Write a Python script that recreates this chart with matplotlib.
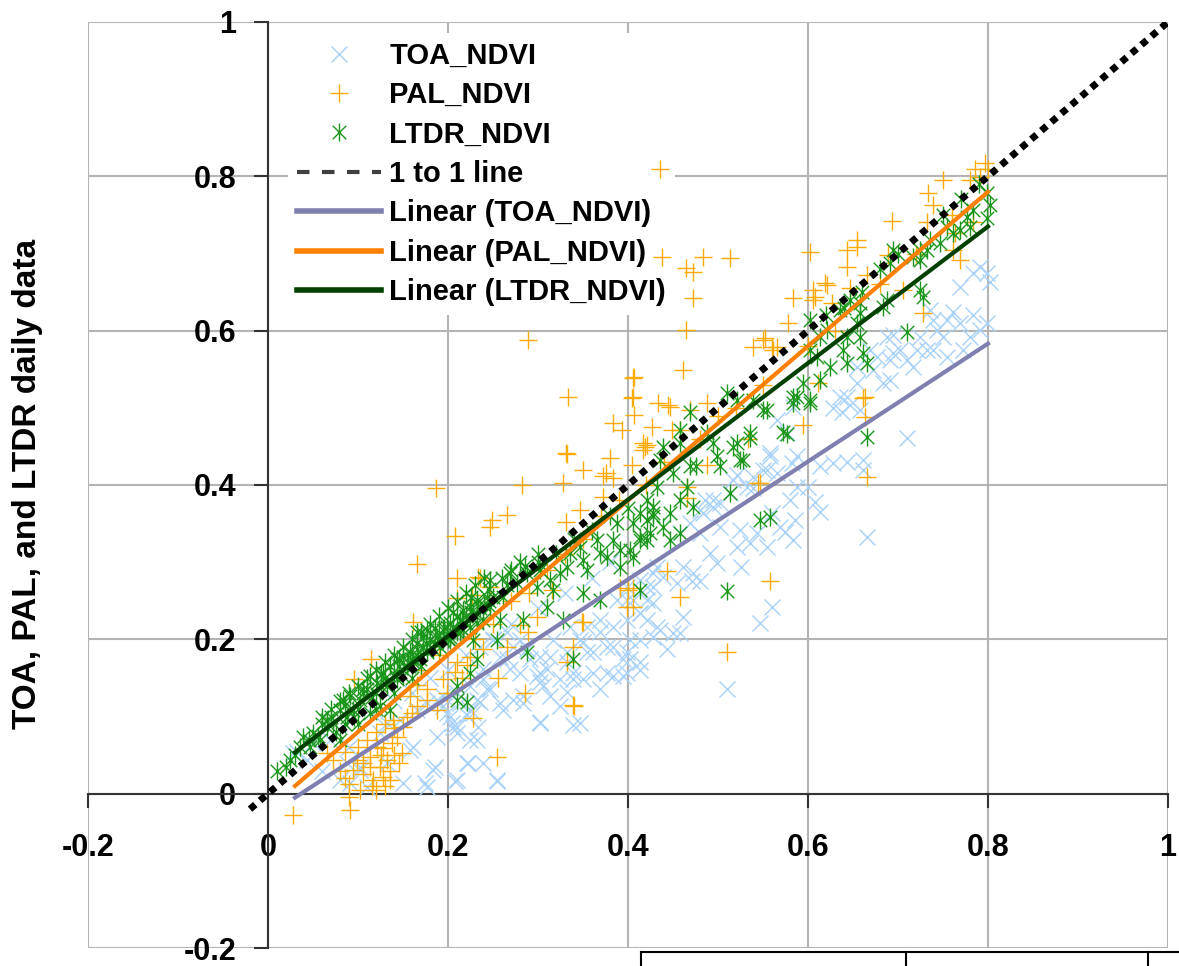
import numpy as np
import matplotlib
matplotlib.use("Agg")
import matplotlib.pyplot as plt
from matplotlib.lines import Line2D
from matplotlib.path import Path

plt.rcParams['font.family'] = ['Liberation Sans', 'DejaVu Sans']
plt.rcParams['font.weight'] = 'bold'

# scatter values (x = reference NDVI, y = daily NDVI)
toa_points = [
    (0.71, 0.461), (0.666, 0.333), (0.613, 0.365), (0.608, 0.378), (0.6, 0.398), (0.586, 0.355),
    (0.574, 0.339), (0.56, 0.364), (0.536, 0.325), (0.526, 0.294), (0.56, 0.242), (0.547, 0.221),
    (0.51, 0.135), (0.499, 0.299), (0.491, 0.312), (0.502, 0.377), (0.494, 0.381), (0.554, 0.42),
    (0.558, 0.437), (0.539, 0.396), (0.521, 0.413), (0.582, 0.429), (0.613, 0.424), (0.628, 0.429),
    (0.643, 0.43), (0.661, 0.433), (0.661, 0.42), (0.638, 0.494), (0.628, 0.5), (0.647, 0.504),
    (0.658, 0.497), (0.583, 0.501), (0.566, 0.484), (0.48, 0.368), (0.486, 0.38), (0.472, 0.286),
    (0.461, 0.294), (0.454, 0.273), (0.471, 0.275), (0.48, 0.275), (0.461, 0.229), (0.45, 0.208),
    (0.458, 0.208), (0.443, 0.187), (0.428, 0.203), (0.436, 0.212), (0.413, 0.234), (0.421, 0.225),
    (0.413, 0.17), (0.402, 0.174), (0.394, 0.152), (0.402, 0.199), (0.399, 0.251), (0.421, 0.251),
    (0.428, 0.268), (0.439, 0.281), (0.517, 0.407),
    (0.799, 0.675), (0.791, 0.683), (0.802, 0.663), (0.769, 0.657), (0.783, 0.675), (0.736, 0.627),
    (0.739, 0.614), (0.754, 0.614), (0.761, 0.624), (0.769, 0.61), (0.783, 0.62), (0.791, 0.601),
    (0.799, 0.61), (0.78, 0.592), (0.75, 0.592), (0.743, 0.601), (0.724, 0.592), (0.721, 0.575),
    (0.732, 0.575), (0.739, 0.575), (0.754, 0.566), (0.772, 0.575), (0.71, 0.562), (0.702, 0.575),
    (0.717, 0.553), (0.691, 0.562), (0.694, 0.571), (0.691, 0.536), (0.683, 0.532), (0.672, 0.549),
    (0.654, 0.553), (0.654, 0.532), (0.677, 0.566), (0.643, 0.514), (0.636, 0.514), (0.688, 0.592),
    (0.694, 0.594), (0.669, 0.575),
    (0.302, 0.093), (0.339, 0.089), (0.232, 0.07), (0.221, 0.04), (0.21, 0.018), (0.254, 0.016),
    (0.206, 0.087), (0.199, 0.105), (0.258, 0.118), (0.302, 0.145), (0.313, 0.126), (0.332, 0.132),
    (0.354, 0.183), (0.369, 0.135), (0.383, 0.152), (0.394, 0.174), (0.377, 0.19), (0.339, 0.148),
    (0.324, 0.148), (0.283, 0.118), (0.272, 0.122), (0.243, 0.135), (0.236, 0.119), (0.228, 0.105),
    (0.213, 0.118), (0.31, 0.161), (0.291, 0.174), (0.28, 0.157), (0.266, 0.174),
    (0.222, 0.04), (0.208, 0.016), (0.183, 0.031), (0.174, 0.014), (0.161, 0.061), (0.11, 0.009),
    (0.102, 0.031), (0.08, 0.018), (0.088, 0.04), (0.032, 0.054), (0.043, 0.044), (0.05, 0.066),
    (0.069, 0.07), (0.124, 0.079), (0.132, 0.092), (0.147, 0.096), (0.166, 0.109), (0.177, 0.118),
    (0.188, 0.122), (0.194, 0.126), (0.21, 0.131), (0.224, 0.139), (0.239, 0.148), (0.232, 0.122),
    (0.21, 0.087), (0.224, 0.07), (0.194, 0.113), (0.221, 0.102), (0.233, 0.087), (0.204, 0.092),
    (0.177, 0.009), (0.254, 0.018), (0.239, 0.04), (0.186, 0.034), (0.028, 0.053), (0.302, 0.092),
    (0.347, 0.092), (0.324, 0.113), (0.306, 0.139), (0.283, 0.126), (0.35, 0.148), (0.332, 0.17),
    (0.35, 0.196), (0.313, 0.177), (0.299, 0.152), (0.269, 0.161), (0.247, 0.135), (0.261, 0.109),
    (0.224, 0.109), (0.239, 0.161), (0.202, 0.1), (0.21, 0.079), (0.188, 0.074), (0.158, 0.057),
    (0.132, 0.04), (0.15, 0.014), (0.102, 0.035), (0.091, 0.014),
    (0.577, 0.468), (0.588, 0.437), (0.558, 0.442), (0.55, 0.42), (0.539, 0.411), (0.566, 0.416),
    (0.58, 0.381), (0.532, 0.398), (0.513, 0.39), (0.494, 0.372), (0.483, 0.364), (0.469, 0.351),
    (0.458, 0.338), (0.48, 0.338), (0.502, 0.346), (0.543, 0.338), (0.569, 0.346), (0.524, 0.342),
    (0.521, 0.32), (0.554, 0.32), (0.583, 0.329), (0.588, 0.398),
    (0.413, 0.199), (0.432, 0.216), (0.399, 0.183), (0.383, 0.19), (0.369, 0.209), (0.361, 0.183),
    (0.347, 0.199), (0.332, 0.183), (0.317, 0.199), (0.302, 0.177), (0.288, 0.187), (0.272, 0.19),
    (0.258, 0.177), (0.302, 0.157), (0.339, 0.157), (0.361, 0.157), (0.377, 0.157), (0.399, 0.157),
    (0.413, 0.16), (0.383, 0.216), (0.399, 0.225), (0.413, 0.234), (0.428, 0.247), (0.406, 0.251),
    (0.388, 0.251), (0.369, 0.225), (0.354, 0.216), (0.335, 0.216), (0.421, 0.268), (0.399, 0.268),
    (0.428, 0.286), (0.413, 0.277), (0.432, 0.294), (0.28, 0.199), (0.266, 0.209), (0.25, 0.199),
    (0.236, 0.19),
    (0.12, 0.1), (0.14, 0.12), (0.16, 0.13), (0.18, 0.15), (0.2, 0.16), (0.22, 0.18), (0.25, 0.2),
    (0.27, 0.22), (0.3, 0.24), (0.33, 0.26), (0.36, 0.28), (0.38, 0.3), (0.06, 0.03), (0.09, 0.06),
]

pal_points = [
    (0.435, 0.81), (0.438, 0.696), (0.472, 0.676), (0.472, 0.642), (0.464, 0.681), (0.483, 0.696),
    (0.464, 0.601), (0.289, 0.588), (0.333, 0.514), (0.187, 0.396), (0.166, 0.298), (0.249, 0.355),
    (0.208, 0.334), (0.266, 0.361), (0.247, 0.345), (0.282, 0.4), (0.332, 0.44), (0.328, 0.403),
    (0.35, 0.42), (0.38, 0.435), (0.372, 0.412), (0.383, 0.48), (0.393, 0.471), (0.407, 0.54),
    (0.404, 0.513), (0.407, 0.491), (0.461, 0.549), (0.578, 0.61), (0.552, 0.59), (0.539, 0.579),
    (0.56, 0.579), (0.433, 0.506), (0.444, 0.504), (0.469, 0.497), (0.427, 0.475), (0.458, 0.471),
    (0.417, 0.455), (0.419, 0.449), (0.533, 0.459), (0.547, 0.403), (0.466, 0.383), (0.21, 0.28),
    (0.233, 0.281), (0.21, 0.254), (0.227, 0.258), (0.161, 0.223), (0.349, 0.223), (0.299, 0.229),
    (0.406, 0.242), (0.4, 0.264), (0.443, 0.288), (0.458, 0.255), (0.558, 0.275),
    (0.513, 0.694), (0.406, 0.539), (0.602, 0.702), (0.643, 0.705), (0.654, 0.718), (0.654, 0.709),
    (0.643, 0.683), (0.693, 0.742), (0.733, 0.778), (0.739, 0.763), (0.75, 0.795), (0.797, 0.817),
    (0.791, 0.799), (0.8, 0.81), (0.732, 0.741), (0.761, 0.705), (0.769, 0.692), (0.728, 0.623),
    (0.583, 0.642), (0.606, 0.653), (0.619, 0.662), (0.606, 0.64), (0.55, 0.588), (0.566, 0.579),
    (0.663, 0.514), (0.663, 0.488), (0.666, 0.411), (0.594, 0.478), (0.544, 0.403), (0.447, 0.501),
    (0.406, 0.514), (0.449, 0.471), (0.488, 0.506), (0.404, 0.426), (0.417, 0.446), (0.466, 0.398),
    (0.488, 0.426),
    (0.621, 0.659), (0.608, 0.644), (0.627, 0.636), (0.647, 0.655), (0.706, 0.653), (0.666, 0.672),
    (0.689, 0.698), (0.561, 0.575), (0.661, 0.513), (0.611, 0.532), (0.786, 0.81), (0.78, 0.795),
    (0.763, 0.727), (0.783, 0.741),
    (0.114, 0.175), (0.096, 0.149), (0.09, -0.004), (0.091, -0.021), (0.102, 0.005), (0.12, 0.005),
    (0.228, 0.098), (0.188, 0.109), (0.158, 0.126), (0.177, 0.135), (0.194, 0.148), (0.208, 0.158),
    (0.221, 0.167), (0.216, 0.15), (0.166, 0.141), (0.072, 0.044), (0.066, 0.053), (0.086, 0.054),
    (0.106, 0.025), (0.113, 0.034), (0.124, 0.035), (0.132, 0.044), (0.128, 0.059), (0.138, 0.066),
    (0.143, 0.074), (0.121, 0.061), (0.113, 0.048), (0.094, 0.031), (0.099, 0.044), (0.128, 0.022),
    (0.136, 0.018), (0.117, 0.018), (0.149, 0.053), (0.15, 0.087), (0.154, 0.1), (0.139, 0.096),
    (0.166, 0.113), (0.177, 0.122), (0.199, 0.131), (0.21, 0.17), (0.224, 0.177), (0.239, 0.187),
    (0.11, 0.07), (0.12, 0.08), (0.13, 0.09), (0.14, 0.05), (0.1, 0.06), (0.105, 0.04), (0.125, 0.05),
    (0.135, 0.03), (0.145, 0.04), (0.115, 0.01), (0.13, 0.01), (0.08, 0.03), (0.085, 0.02),
    (0.14, 0.085), (0.16, 0.105),
    (0.028, -0.028), (0.286, 0.131), (0.339, 0.115), (0.254, 0.048), (0.09, 0.013),
    (0.339, 0.19), (0.332, 0.171), (0.256, 0.15), (0.34, 0.113), (0.51, 0.183),
    (0.331, 0.442), (0.375, 0.415), (0.383, 0.409), (0.421, 0.452), (0.347, 0.368), (0.331, 0.352),
    (0.372, 0.385), (0.235, 0.28), (0.247, 0.268), (0.316, 0.264), (0.35, 0.223), (0.28, 0.219),
    (0.266, 0.19), (0.289, 0.209), (0.399, 0.242), (0.406, 0.267), (0.391, 0.267),
    (0.17, 0.16), (0.19, 0.18), (0.23, 0.2), (0.25, 0.22), (0.27, 0.25), (0.29, 0.26), (0.31, 0.29),
    (0.33, 0.31), (0.35, 0.33), (0.37, 0.36), (0.39, 0.38), (0.42, 0.4), (0.44, 0.43), (0.48, 0.46),
    (0.5, 0.49), (0.52, 0.5), (0.55, 0.53), (0.6, 0.58), (0.63, 0.6), (0.68, 0.66), (0.72, 0.7),
    (0.76, 0.75),
]

ltdr_points = [
    (0.039, 0.074), (0.05, 0.079), (0.066, 0.087), (0.072, 0.092), (0.091, 0.126), (0.094, 0.109),
    (0.102, 0.122), (0.11, 0.135), (0.121, 0.144), (0.113, 0.152), (0.128, 0.157), (0.136, 0.165),
    (0.143, 0.174), (0.15, 0.177), (0.158, 0.183), (0.166, 0.187), (0.172, 0.203), (0.18, 0.199),
    (0.188, 0.203), (0.194, 0.212), (0.202, 0.221), (0.21, 0.229), (0.217, 0.238), (0.224, 0.242),
    (0.232, 0.247), (0.088, 0.1), (0.08, 0.109), (0.083, 0.122), (0.058, 0.07), (0.047, 0.061),
    (0.024, 0.044), (0.132, 0.139), (0.143, 0.148), (0.15, 0.152), (0.154, 0.165), (0.161, 0.17),
    (0.169, 0.174), (0.177, 0.183), (0.183, 0.187), (0.191, 0.19), (0.194, 0.199), (0.202, 0.203),
    (0.21, 0.209), (0.217, 0.212), (0.224, 0.216), (0.232, 0.221), (0.239, 0.225), (0.172, 0.19),
    (0.166, 0.209), (0.177, 0.212), (0.21, 0.122), (0.221, 0.119), (0.21, 0.139), (0.232, 0.174),
    (0.224, 0.157), (0.136, 0.109), (0.124, 0.113), (0.113, 0.105),
    (0.01, 0.03), (0.02, 0.035), (0.03, 0.05), (0.035, 0.06), (0.045, 0.07), (0.055, 0.075),
    (0.06, 0.09), (0.07, 0.1), (0.075, 0.08), (0.085, 0.09), (0.095, 0.1), (0.1, 0.11), (0.105, 0.13),
    (0.115, 0.125), (0.12, 0.13), (0.125, 0.14), (0.13, 0.15), (0.14, 0.155), (0.145, 0.165),
    (0.155, 0.17), (0.16, 0.175), (0.165, 0.18), (0.17, 0.165), (0.175, 0.195), (0.185, 0.195),
    (0.19, 0.205), (0.195, 0.215), (0.2, 0.2), (0.205, 0.215), (0.215, 0.225), (0.22, 0.23),
    (0.225, 0.235), (0.235, 0.24), (0.24, 0.245), (0.245, 0.25), (0.25, 0.255), (0.08, 0.07),
    (0.1, 0.09), (0.12, 0.11), (0.14, 0.13), (0.16, 0.15),
    (0.06, 0.1), (0.07, 0.11), (0.08, 0.12), (0.09, 0.13), (0.1, 0.14), (0.11, 0.15), (0.12, 0.16),
    (0.13, 0.17), (0.14, 0.18), (0.15, 0.19), (0.16, 0.2), (0.17, 0.21), (0.18, 0.22), (0.19, 0.23),
    (0.2, 0.24), (0.21, 0.25), (0.22, 0.26), (0.23, 0.27), (0.24, 0.28), (0.26, 0.28), (0.27, 0.29),
    (0.28, 0.3), (0.3, 0.31), (0.065, 0.095), (0.085, 0.115), (0.105, 0.135), (0.125, 0.155),
    (0.145, 0.175), (0.165, 0.195), (0.185, 0.215), (0.205, 0.235), (0.225, 0.255), (0.245, 0.265),
    (0.265, 0.27), (0.285, 0.295), (0.3, 0.3), (0.32, 0.31), (0.34, 0.33), (0.36, 0.34), (0.38, 0.36),
    (0.4, 0.37),
    (0.199, 0.216), (0.213, 0.225), (0.228, 0.234), (0.247, 0.242), (0.261, 0.255), (0.277, 0.273),
    (0.269, 0.286), (0.288, 0.286), (0.302, 0.29), (0.299, 0.268), (0.313, 0.277), (0.317, 0.264),
    (0.324, 0.286), (0.332, 0.294), (0.336, 0.312), (0.347, 0.32), (0.35, 0.303), (0.354, 0.29),
    (0.366, 0.329), (0.369, 0.312), (0.377, 0.307), (0.383, 0.329), (0.388, 0.351), (0.391, 0.316),
    (0.402, 0.316), (0.406, 0.351), (0.413, 0.329), (0.421, 0.355), (0.428, 0.372), (0.428, 0.36),
    (0.413, 0.264), (0.406, 0.307), (0.391, 0.294), (0.35, 0.26), (0.31, 0.242), (0.328, 0.225),
    (0.283, 0.225), (0.258, 0.225), (0.254, 0.199), (0.228, 0.199), (0.288, 0.183), (0.339, 0.174),
    (0.369, 0.251), (0.247, 0.277), (0.243, 0.255), (0.232, 0.251), (0.213, 0.209), (0.202, 0.199),
    (0.51, 0.519), (0.521, 0.51), (0.539, 0.51), (0.554, 0.497), (0.583, 0.514), (0.577, 0.466),
    (0.536, 0.461), (0.521, 0.455), (0.528, 0.433), (0.499, 0.437), (0.502, 0.424), (0.494, 0.455),
    (0.488, 0.468), (0.469, 0.494), (0.458, 0.471), (0.439, 0.449), (0.436, 0.433), (0.458, 0.455),
    (0.469, 0.424), (0.476, 0.424), (0.45, 0.416), (0.466, 0.398), (0.458, 0.381), (0.472, 0.372),
    (0.432, 0.398), (0.421, 0.381), (0.413, 0.364), (0.428, 0.364), (0.439, 0.346), (0.424, 0.338),
    (0.413, 0.333), (0.447, 0.329), (0.513, 0.39), (0.547, 0.355), (0.558, 0.359),
    (0.799, 0.778), (0.802, 0.763), (0.799, 0.746), (0.783, 0.756), (0.777, 0.747), (0.78, 0.734),
    (0.769, 0.731), (0.761, 0.727), (0.754, 0.734), (0.747, 0.714), (0.736, 0.718), (0.732, 0.705),
    (0.724, 0.705), (0.717, 0.696), (0.724, 0.692), (0.694, 0.705), (0.691, 0.688), (0.724, 0.653),
    (0.728, 0.644), (0.688, 0.64), (0.683, 0.631), (0.71, 0.598), (0.658, 0.636), (0.658, 0.623),
    (0.647, 0.64), (0.636, 0.627), (0.654, 0.61), (0.643, 0.592), (0.658, 0.592), (0.621, 0.601),
    (0.613, 0.592), (0.602, 0.614), (0.602, 0.575), (0.61, 0.566), (0.639, 0.575), (0.624, 0.553),
    (0.643, 0.558), (0.661, 0.571), (0.666, 0.558), (0.613, 0.536), (0.588, 0.514), (0.602, 0.51),
    (0.594, 0.532),
    (0.536, 0.468), (0.572, 0.469), (0.666, 0.462), (0.51, 0.262), (0.458, 0.338), (0.447, 0.364),
    (0.421, 0.329), (0.524, 0.433), (0.517, 0.449), (0.55, 0.497), (0.583, 0.506), (0.602, 0.506),
    (0.75, 0.75), (0.77, 0.77), (0.79, 0.79), (0.7, 0.7), (0.68, 0.68), (0.66, 0.65), (0.64, 0.63),
    (0.62, 0.62),
]

# linear trendlines: slope, intercept and x range
toa_fit = (0.764, -0.028)
pal_fit = (1.0, -0.02)
ltdr_fit = (0.885, 0.027)
fit_x = [0.03, 0.8]
one_to_one_x = [-0.02, 1.0]

ticks = [-0.2, 0, 0.2, 0.4, 0.6, 0.8, 1]
tick_labels = ['-0.2', '0', '0.2', '0.4', '0.6', '0.8', '1']

toa_x, toa_y = np.array(toa_points).T
pal_x, pal_y = np.array(pal_points).T
ltdr_x, ltdr_y = np.array(ltdr_points).T

# asterisk marker like Excel's: an x with a vertical bar
star = Path([(0, -1), (0, 1), (-0.75, -0.75), (0.75, 0.75), (-0.75, 0.75), (0.75, -0.75)],
            [Path.MOVETO, Path.LINETO] * 3)

c_toa = '#a8d2fa'
c_pal = '#ffaa00'
c_ltdr = '#1a961a'
c_toa_fit = '#7f7fb0'
c_pal_fit = '#ff7f00'
c_ltdr_fit = '#004000'

fig = plt.figure(figsize=(11.79, 9.66), dpi=100)
ax = fig.add_axes([88 / 1179, 18 / 966, 1080 / 1179, 926 / 966])

ax.plot(toa_x, toa_y, 'x', color=c_toa, ms=12, mew=1.0, zorder=3)
ax.plot(pal_x, pal_y, '+', color=c_pal, ms=13, mew=1.0, zorder=6)
ax.plot(ltdr_x, ltdr_y, marker=star, ls='none', color=c_ltdr, ms=13, mew=1.0, zorder=7)

fx = np.array(fit_x)
ax.plot(fx, toa_fit[0] * fx + toa_fit[1], color=c_toa_fit, lw=3, zorder=8)
ax.plot(fx, pal_fit[0] * fx + pal_fit[1], color=c_pal_fit, lw=3, zorder=8)
ax.plot(fx, ltdr_fit[0] * fx + ltdr_fit[1], color=c_ltdr_fit, lw=3, zorder=8)
ax.plot(one_to_one_x, one_to_one_x, color='black', lw=5, ls=(0, (1, 0.9)), zorder=9)

ax.set_xlim(-0.2, 1)
ax.set_ylim(-0.2, 1)
ax.set_xticks(ticks)
ax.set_yticks(ticks)
ax.set_xticklabels(tick_labels)
ax.set_yticklabels(tick_labels)
ax.grid(True, color='#b4b4b4', lw=1.5, zorder=0)
ax.set_axisbelow(True)

for side in ['top', 'right']:
    ax.spines[side].set_visible(False)
ax.spines['left'].set_position(('data', 0))
ax.spines['bottom'].set_position(('data', 0))
ax.spines['left'].set_color('#333333')
ax.spines['bottom'].set_color('#333333')
ax.spines['left'].set_linewidth(1.5)
ax.spines['bottom'].set_linewidth(1.5)
ax.tick_params(axis='both', direction='out', length=10, width=1.5, color='#333333', labelsize=22)
ax.tick_params(axis='x', pad=18)
ax.tick_params(axis='y', pad=13)
for lab in ax.get_xticklabels() + ax.get_yticklabels():
    lab.set_fontweight('bold')

fig.text(28 / 1179, 1 - 484 / 966, 'TOA, PAL, and LTDR daily data', rotation=90,
         ha='center', va='center', fontsize=24, fontweight='bold')

handles = [
    Line2D([], [], ls='none', marker='x', color=c_toa, ms=12, mew=1.0),
    Line2D([], [], ls='none', marker='+', color=c_pal, ms=13, mew=1.0),
    Line2D([], [], ls='none', marker=star, color=c_ltdr, ms=13, mew=1.0),
    Line2D([], [], ls='--', color='#404040', lw=3, dashes=(3, 3)),
    Line2D([], [], color=c_toa_fit, lw=4),
    Line2D([], [], color=c_pal_fit, lw=4),
    Line2D([], [], color=c_ltdr_fit, lw=4),
]
labels = ['TOA_NDVI', 'PAL_NDVI', 'LTDR_NDVI', '1 to 1 line',
          'Linear (TOA_NDVI)', 'Linear (PAL_NDVI)', 'Linear (LTDR_NDVI)']
leg = ax.legend(handles, labels, loc='upper left', bbox_to_anchor=(0.185, 0.988),
                fontsize=21, frameon=True, fancybox=False, edgecolor='none', facecolor='white',
                framealpha=1, handlelength=2.9, handletextpad=0.28, labelspacing=0.39,
                borderpad=0.3, borderaxespad=0)
leg.set_zorder(5)
for t in leg.get_texts():
    t.set_fontweight('bold')

# partial box at the bottom right edge of the picture
y0 = 1 - 952 / 966
fig.add_artist(Line2D([641 / 1179, 1], [y0, y0], color='black', lw=1.5, transform=fig.transFigure))
for xp in [641, 906, 1148]:
    fig.add_artist(Line2D([xp / 1179, xp / 1179], [y0, 0], color='black', lw=1.5,
                          transform=fig.transFigure))

fig.savefig('out.png', dpi=100)
